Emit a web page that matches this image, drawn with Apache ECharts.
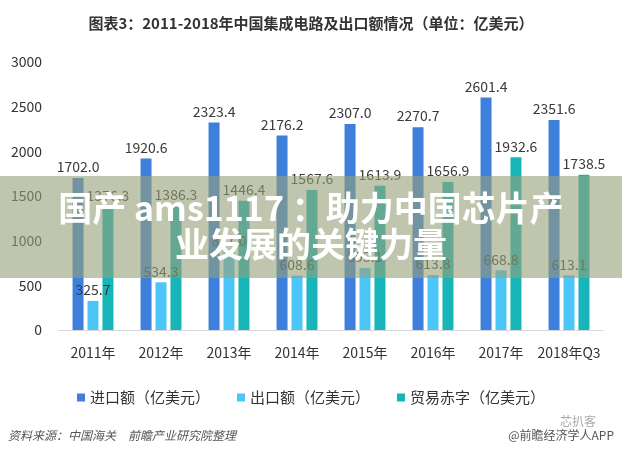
<!DOCTYPE html>
<html><head><meta charset="utf-8">
<script src="https://cdn.jsdelivr.net/npm/echarts@6/dist/echarts.min.js"></script>
<style>html,body{margin:0;padding:0;background:#fff}#c{width:622px;height:454px}</style>
</head><body><div id="c"></div>
<script>
const categories = ['2011年','2012年','2013年','2014年','2015年','2016年','2017年','2018年Q3'];
const importVals = [1702.0, 1920.6, 2323.4, 2176.2, 2307.0, 2270.7, 2601.4, 2351.6];
const exportVals = [325.7, 534.3, 877.0, 608.6, 693.1, 613.8, 668.8, 613.1];
const deficitVals = [1376.3, 1386.3, 1446.4, 1567.6, 1613.9, 1656.9, 1932.6, 1738.5];
const seriesNames = ['进口额（亿美元）','出口额（亿美元）','贸易赤字（亿美元）'];
const yTicks = [0, 500, 1000, 1500, 2000, 2500, 3000];

const FONT = '"Noto Sans CJK SC", "Microsoft YaHei", sans-serif';
const colors = ['#3e7fdc', '#4cc6f6', '#17b4b9'];
const chart = echarts.init(document.getElementById('c'), null, {renderer: 'canvas'});
const lbl = {show: true, position: 'top', distance: 4, color: '#3a3a3a', fontSize: 14, fontFamily: FONT,
  formatter: p => p.value.toFixed(1)};
chart.setOption({
  animation: false,
  textStyle: {fontFamily: FONT},
  title: {text: '图表3：2011-2018年中国集成电路及出口额情况（单位：亿美元）', left: 'center', top: 11,
    textStyle: {fontSize: 15, fontWeight: 'bold', color: '#333', fontFamily: FONT}},
  legend: {data: seriesNames, left: 72, top: 385, icon: 'rect', itemWidth: 8, itemHeight: 8, itemGap: 27,
    textStyle: {fontSize: 15, color: '#333', fontFamily: FONT}},
  grid: {left: 59, right: 19, top: 62, bottom: 124},
  xAxis: {type: 'category', data: categories,
    axisLine: {lineStyle: {color: '#d9d9d9'}}, axisTick: {show: false},
    axisLabel: {color: '#333', fontSize: 14, margin: 16, interval: 0, fontFamily: FONT}},
  yAxis: {type: 'value', min: yTicks[0], max: yTicks[yTicks.length-1], interval: 500,
    axisLine: {show: false}, axisTick: {show: false}, splitLine: {show: false},
    axisLabel: {color: '#333', fontSize: 14, margin: 17, fontFamily: FONT, formatter: v => String(v)}},
  series: [
    {name: seriesNames[0], type: 'bar', data: importVals, barWidth: 11, barGap: '36%', itemStyle: {color: colors[0]}, label: lbl},
    {name: seriesNames[1], type: 'bar', data: exportVals, barWidth: 11, barGap: '36%', itemStyle: {color: colors[1]}, label: lbl},
    {name: seriesNames[2], type: 'bar', data: deficitVals, barWidth: 11, barGap: '36%', itemStyle: {color: colors[2]}, label: lbl}
  ],
  graphic: [
    {type: 'text', left: 8, top: 429, style: {text: '资料来源：中国海关　前瞻产业研究院整理', fill: '#555', font: 'italic 12px ' + FONT}},
    {type: 'text', right: 8, top: 429, style: {text: '@前瞻经济学人APP', fill: '#555', font: '12px ' + FONT}},
    {type: 'text', left: 560, top: 415, style: {text: '芯扒客', fill: '#aaa', font: '12px ' + FONT}},
    {type: 'rect', shape: {x: 0, y: 176, width: 622, height: 102}, style: {fill: 'rgba(150,160,120,0.6)'}, z: 100},
    {type: 'text', x: 311, y: 208, z: 101, style: {text: '国产 ams1117 ：助力中国芯片产', textAlign: 'center', textVerticalAlign: 'middle', fill: '#fff', font: 'bold 34px ' + FONT}},
    {type: 'text', x: 311, y: 244, z: 101, style: {text: '业发展的关键力量', textAlign: 'center', textVerticalAlign: 'middle', fill: '#fff', font: 'bold 34px ' + FONT}}
  ]
});
</script></body></html>
